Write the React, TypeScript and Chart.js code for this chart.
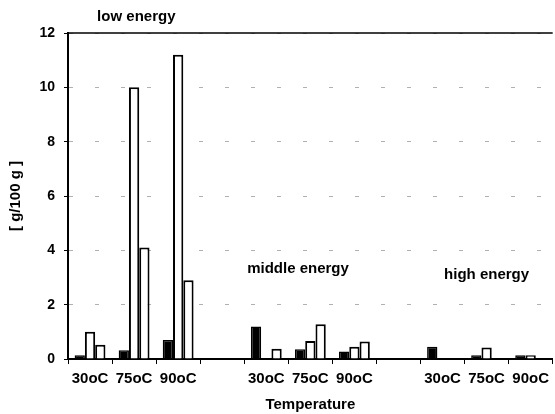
import React, { useEffect, useRef } from "react";
import { Chart, registerables } from "chart.js";

Chart.register(...registerables);

// Temperature categories, with blank slots separating the three energy groups
const categories = ["30oC", "75oC", "90oC", "", "30oC", "75oC", "90oC", "", "30oC", "75oC", "90oC"];

// Values in g/100 g (null = no bar)
const seriesA = [0.14, 0.32, 0.7, null, 1.2, 0.36, 0.28, null, 0.45, 0.14, 0.14];
const seriesB = [1.0, 10.0, 11.2, null, null, 0.66, 0.45, null, null, 0.42, 0.14];
const seriesC = [0.52, 4.1, 2.9, null, 0.38, 1.28, 0.64, null, null, null, null];

const yTicks = [0, 2, 4, 6, 8, 10, 12];

// Group captions: text, category index (x), value (y) — null y means above the plot
const groupNames = ["low energy", "middle energy", "high energy"];
const groupAtCategory = [1.05, 4.72, 9.0];
const groupAtValue: (number | null)[] = [null, 3.3, 3.1];

const FONT = "'Liberation Sans', Arial, Helvetica, sans-serif";

const groupLabelsPlugin = {
  id: "groupLabels",
  afterDraw(chart: any) {
    const { ctx, chartArea, scales } = chart;
    const x = scales.x;
    const y = scales.y;
    ctx.save();
    // top frame line
    ctx.strokeStyle = "#000";
    ctx.lineWidth = 1.5;
    ctx.beginPath();
    ctx.moveTo(chartArea.left, chartArea.top);
    ctx.lineTo(chartArea.right, chartArea.top);
    ctx.stroke();

    ctx.fillStyle = "#000";
    ctx.font = `bold 15px ${FONT}`;
    ctx.textAlign = "center";
    ctx.textBaseline = "middle";
    groupNames.forEach((name, i) => {
      const px = x.getPixelForValue(groupAtCategory[i]);
      const v = groupAtValue[i];
      const py = v === null ? chartArea.top - 16 : y.getPixelForValue(v);
      ctx.fillText(name, px, py);
    });
    ctx.restore();
  },
};

export default function App() {
  const canvasRef = useRef<HTMLCanvasElement | null>(null);

  useEffect(() => {
    document.body.style.margin = "0";
    const canvas = canvasRef.current;
    if (!canvas) return;

    const chart = new Chart(canvas, {
      type: "bar",
      data: {
        labels: categories,
        datasets: [
          {
            data: seriesA,
            backgroundColor: "#000",
            borderColor: "#000",
            borderWidth: 1.5,
          },
          {
            data: seriesB,
            backgroundColor: "#fff",
            borderColor: "#000",
            borderWidth: 2,
          },
          {
            data: seriesC,
            backgroundColor: "#fff",
            borderColor: "#000",
            borderWidth: 2,
          },
        ],
      },
      options: {
        animation: false,
        responsive: false,
        devicePixelRatio: 1,
        layout: { padding: { top: 33, left: 0, right: 0, bottom: 0 } },
        datasets: {
          bar: { categoryPercentage: 0.7, barPercentage: 1.0 },
        },
        plugins: {
          legend: { display: false },
          tooltip: { enabled: false },
        },
        scales: {
          x: {
            grid: {
              offset: true,
              drawOnChartArea: false,
              drawTicks: true,
              tickLength: 5,
              color: "#000",
              lineWidth: 1,
            },
            border: { display: true, color: "#000", width: 2 },
            ticks: {
              color: "#000",
              padding: 6,
              maxRotation: 0,
              autoSkip: false,
              font: { family: FONT, size: 15, weight: "bold" },
            },
            title: {
              display: true,
              text: "Temperature",
              color: "#000",
              padding: { top: 0, bottom: 0 },
              font: { family: FONT, size: 15, weight: "bold" },
            },
            afterFit(scale: any) {
              scale.height = 55;
            },
          },
          y: {
            min: 0,
            max: 12,
            afterBuildTicks(scale: any) {
              scale.ticks = yTicks.map((v) => ({ value: v }));
            },
            grid: {
              color: "#b0b0b0",
              lineWidth: 1,
              tickLength: 4,
              tickColor: "#000",
            },
            border: { display: true, color: "#000", width: 2, dash: [4, 22] },
            ticks: {
              color: "#000",
              padding: 9,
              font: { family: FONT, size: 14, weight: "bold" },
            },
            title: {
              display: true,
              text: "[ g/100 g ]",
              color: "#000",
              padding: { top: 7, bottom: 0 },
              font: { family: FONT, size: 15, weight: "bold" },
            },
            afterFit(scale: any) {
              scale.width = 68;
            },
          },
        },
      },
      plugins: [groupLabelsPlugin],
    });

    return () => chart.destroy();
  }, []);

  return (
    <div style={{ width: 555, height: 414, background: "#fff" }}>
      <canvas ref={canvasRef} width={555} height={414} />
    </div>
  );
}
